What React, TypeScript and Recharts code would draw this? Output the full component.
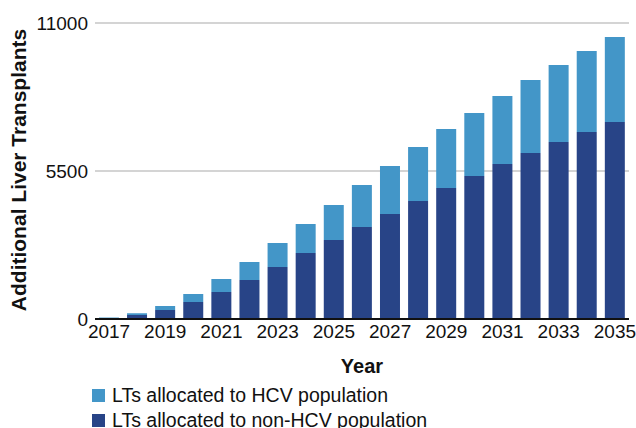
import React from 'react';
import { BarChart, Bar, XAxis, YAxis, CartesianGrid, Legend } from 'recharts';

const years = [
  '2017', '2018', '2019', '2020', '2021', '2022', '2023', '2024', '2025', '2026',
  '2027', '2028', '2029', '2030', '2031', '2032', '2033', '2034', '2035',
];
const nonHcv = [
  20, 149, 334, 632, 1003, 1449, 1932, 2453, 2936, 3419,
  3902, 4385, 4868, 5314, 5760, 6169, 6578, 6949, 7321,
];
const hcv = [
  35, 63, 149, 297, 483, 669, 892, 1077, 1300, 1561,
  1784, 2007, 2193, 2341, 2527, 2713, 2861, 3010, 3159,
];
const yTicks = [0, 5500, 11000];

const LIGHT = '#4396c8';
const DARK = '#284487';
const FONT = '"Liberation Sans", Arial, Helvetica, sans-serif';

const data = years.map((year, i) => ({ year, nonHcv: nonHcv[i], hcv: hcv[i] }));

const YLabel = (props: any) => {
  const { viewBox } = props;
  const x = viewBox.x + 18;
  const y = viewBox.y + viewBox.height / 2 - 1;
  return (
    <text
      x={x}
      y={y}
      transform={`rotate(-90, ${x}, ${y})`}
      textAnchor="middle"
      dominantBaseline="central"
      fontSize={21}
      fontWeight={700}
      fill="#111"
      fontFamily={FONT}
    >
      Additional Liver Transplants
    </text>
  );
};

const LegendBox = () => {
  const items = [
    { label: 'LTs allocated to HCV population', color: LIGHT },
    { label: 'LTs allocated to non-HCV population', color: DARK },
  ];
  return (
    <div style={{ paddingLeft: 92, paddingTop: 10, fontFamily: FONT }}>
      {items.map((it) => (
        <div key={it.label} style={{ display: 'flex', alignItems: 'center', height: 25 }}>
          <span style={{ width: 13, height: 13, background: it.color, display: 'inline-block', marginRight: 7 }} />
          <span style={{ fontSize: 19.5, color: '#111', lineHeight: '25px', whiteSpace: 'nowrap' }}>{it.label}</span>
        </div>
      ))}
    </div>
  );
};

export default function App() {
  return (
    <div style={{ position: 'absolute', left: 0, top: 0, background: '#fff' }}>
      <BarChart
        width={636}
        height={428}
        data={data}
        margin={{ top: 23, right: 7, left: 0, bottom: 0 }}
        barCategoryGap="14%"
      >
        <CartesianGrid vertical={false} stroke="#c6c6c6" strokeWidth={1.5} />
        <XAxis
          dataKey="year"
          height={54}
          interval={1}
          tickLine={false}
          tickSize={0}
          tickMargin={6}
          axisLine={{ stroke: '#111', strokeWidth: 2 }}
          tick={{ fill: '#111', fontSize: 19, fontFamily: FONT }}
          label={{ value: 'Year', position: 'insideBottom', offset: 0, fontSize: 20, fontWeight: 700, fill: '#111', fontFamily: FONT }}
        />
        <YAxis
          width={95}
          domain={[0, 11000]}
          ticks={yTicks}
          axisLine={false}
          tickLine={false}
          tickSize={0}
          tickMargin={7}
          tick={{ fill: '#111', fontSize: 19, fontFamily: FONT }}
          label={<YLabel />}
        />
        <Legend verticalAlign="bottom" align="left" height={55} content={<LegendBox />} />
        <Bar dataKey="nonHcv" stackId="a" fill={DARK} isAnimationActive={false} />
        <Bar dataKey="hcv" stackId="a" fill={LIGHT} isAnimationActive={false} />
      </BarChart>
    </div>
  );
}
